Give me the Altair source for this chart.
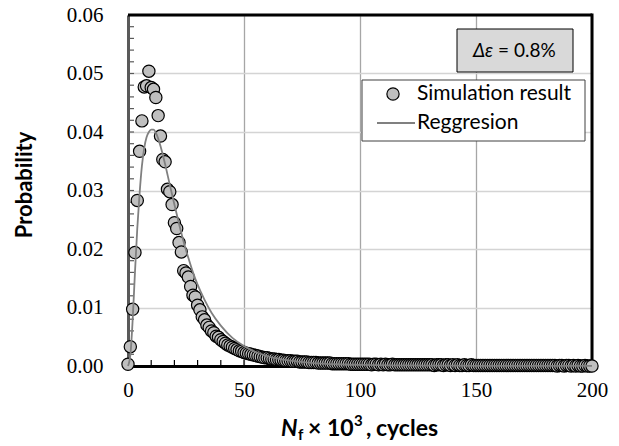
import altair as alt
import pandas as pd

# ---------------- data ----------------
sim_x = list(range(0, 201))
sim_y = [
    0.0003, 0.0033, 0.0097, 0.0194, 0.0283, 0.0367, 0.0419, 0.0477, 0.0479, 0.0504,
    0.0476, 0.0473, 0.0459, 0.0428, 0.0393, 0.0353, 0.0349, 0.0302, 0.0298, 0.0276,
    0.0245, 0.0235, 0.0211, 0.0195, 0.0163, 0.0159, 0.0152, 0.0136, 0.0121, 0.0118,
    0.0104, 0.0096, 0.0084, 0.0079, 0.0070, 0.0066, 0.0060, 0.0057, 0.0051, 0.0049,
    0.0045, 0.0042, 0.0039, 0.0036, 0.0034, 0.0032, 0.0030, 0.0028, 0.0026, 0.0025,
    0.0023, 0.0022, 0.0021, 0.0020, 0.0019, 0.0018, 0.0017, 0.0016, 0.0015, 0.0014,
    0.0014, 0.0013, 0.0012, 0.0012, 0.0011, 0.0011, 0.0010, 0.0010, 0.0009, 0.0009,
    0.0009, 0.0008, 0.0008, 0.0008, 0.0007, 0.0007, 0.0007, 0.0007, 0.0006, 0.0006,
    0.0006, 0.0006, 0.0005, 0.0005, 0.0005, 0.0005, 0.0005, 0.0005, 0.0004, 0.0004,
    0.0004, 0.0004, 0.0004, 0.0004, 0.0004, 0.0004, 0.0003, 0.0003, 0.0003, 0.0003,
    0.0003, 0.0003, 0.0003, 0.0003, 0.0003, 0.0002, 0.0003, 0.0003, 0.0002, 0.0003,
    0.0002, 0.0003, 0.0002, 0.0002, 0.0003, 0.0002, 0.0002, 0.0002, 0.0002, 0.0002,
    0.0002, 0.0002, 0.0002, 0.0002, 0.0002, 0.0002, 0.0002, 0.0002, 0.0002, 0.0002,
    0.0002, 0.0002, 0.0001, 0.0002, 0.0002, 0.0002, 0.0001, 0.0002, 0.0002, 0.0001,
    0.0002, 0.0001, 0.0002, 0.0001, 0.0001, 0.0002, 0.0001, 0.0001, 0.0002, 0.0001,
    0.0001, 0.0001, 0.0001, 0.0001, 0.0001, 0.0001, 0.0001, 0.0001, 0.0001, 0.0001,
    0.0001, 0.0001, 0.0001, 0.0001, 0.0001, 0.0001, 0.0001, 0.0001, 0.0001, 0.0001,
    0.0001, 0.0001, 0.0001, 0.0001, 0.0001, 0.0001, 0.0001, 0.0001, 0.0001, 0.0001,
    0.0001, 0.0001, 0.0001, 0.0001, 0.0001, 0.0000, 0.0001, 0.0001, 0.0000, 0.0001,
    0.0001, 0.0000, 0.0001, 0.0000, 0.0001, 0.0000, 0.0000, 0.0001, 0.0000, 0.0000,
    0.0000,
]
reg_x = [0, 1, 2, 3, 4, 5, 6, 7, 8, 9, 10, 11, 12, 13, 14, 15, 16, 18, 20, 22, 24, 26,
         28, 30, 33, 36, 40, 45, 50, 55, 60, 70, 80, 90, 100, 120, 140, 160, 180, 200]
reg_y = [0.0000, 0.0018, 0.0078, 0.0160, 0.0235, 0.0295, 0.0342, 0.0373, 0.0391, 0.0400,
         0.0404, 0.0404, 0.0399, 0.0389, 0.0376, 0.0361, 0.0345, 0.0310, 0.0276, 0.0243,
         0.0212, 0.0185, 0.0160, 0.0139, 0.0113, 0.0091, 0.0069, 0.0048, 0.0034, 0.0024,
         0.0017, 0.0009, 0.0005, 0.0003, 0.0002, 0.0001, 0.00005, 0.00003, 0.00002, 0.00001]

y_ticks = [0.00, 0.01, 0.02, 0.03, 0.04, 0.05, 0.06]
x_ticks = [0, 50, 100, 150, 200]
y_minor = [0.002, 0.004, 0.006, 0.008, 0.010, 0.012, 0.014, 0.016, 0.018, 0.020,
           0.022, 0.024, 0.026, 0.028, 0.030, 0.032, 0.034, 0.036, 0.038, 0.040,
           0.042, 0.044, 0.046, 0.048, 0.050, 0.052, 0.054, 0.056, 0.058]
x_minor = [10, 20, 30, 40, 50, 60, 70, 80, 90, 100, 110, 120, 130, 140, 150, 160,
           170, 180, 190]

legend_labels = ["Simulation result", "Reggresion"]
y_title = "Probability"
note_italic = "Δε"
note_rest = "= 0.8%"

# ---------------- layout ----------------
W, H = 464, 351
SANS = "Lato"
SERIF = "Liberation Serif"

sim = pd.DataFrame({"x": sim_x, "y": sim_y})
reg = pd.DataFrame({"x": reg_x, "y": reg_y})
one = alt.Data(values=[{"a": 1}])

xs = alt.Scale(domain=[0, 200], nice=False, zero=False)
ys = alt.Scale(domain=[0, 0.06], nice=False)

def X(field):
    return alt.X(field, scale=xs, title="")

def Y(field):
    return alt.Y(field, scale=ys, title="")

# Axes + grid (drawn behind marks)
axes = alt.Chart(reg).mark_line(opacity=0).encode(
    x=alt.X("x:Q", scale=xs, title="",
            axis=alt.Axis(values=x_ticks, labelFont=SERIF, labelFontSize=21,
                          labelColor="black", ticks=False, tickSize=0,
                          labelPadding=13, domainColor="black", domainWidth=3,
                          grid=True, gridColor="#a6a6a6", gridWidth=1.3,
                          labelFlush=False)),
    y=alt.Y("y:Q", scale=ys, title="",
            axis=alt.Axis(values=y_ticks, format=".2f", labelFont=SERIF,
                          labelFontSize=21, labelColor="black", ticks=False,
                          tickSize=0, labelPadding=25, domainColor="#5a5a5a",
                          domainWidth=3, grid=True, gridColor="#d4d4d4",
                          gridWidth=1.3, labelFlush=False)),
)

top_rule = alt.Chart(one).mark_rule(color="black", strokeWidth=3).encode(
    x=alt.value(0), x2=alt.value(W), y=alt.value(0))
right_rule = alt.Chart(one).mark_rule(color="black", strokeWidth=3).encode(
    x=alt.value(W), y=alt.value(-1.5), y2=alt.value(H))

ymin = alt.Chart(pd.DataFrame({"y": y_minor})).mark_rule(
    color="#5a5a5a", strokeWidth=1.2).encode(
    y=Y("y:Q"), x=alt.value(0), x2=alt.value(6))
xmin = alt.Chart(pd.DataFrame({"x": x_minor})).mark_rule(
    color="black", strokeWidth=1.2).encode(
    x=X("x:Q"), y=alt.value(H), y2=alt.value(H - 6))

points = alt.Chart(sim).mark_point(
    shape="circle", filled=True, fill="#bfbfbf", stroke="black",
    strokeWidth=1.2, size=150, opacity=1).encode(x=X("x:Q"), y=Y("y:Q"))

line = alt.Chart(reg).mark_line(
    color="#808080", strokeWidth=1.8, interpolate="monotone").encode(
    x=X("x:Q"), y=Y("y:Q"))

# Δε box
note_box = alt.Chart(one).mark_rect(
    fill="#d9d9d9", stroke="black", strokeWidth=1).encode(
    x=alt.value(329), x2=alt.value(445), y=alt.value(14), y2=alt.value(57))
note_a = alt.Chart(one).mark_text(
    font=SANS, fontSize=19, fontStyle="italic", align="right",
    baseline="middle", color="black").encode(
    x=alt.value(365), y=alt.value(36), text=alt.value(note_italic))
note_b = alt.Chart(one).mark_text(
    font=SANS, fontSize=19, align="left", baseline="middle",
    color="black").encode(
    x=alt.value(370), y=alt.value(36), text=alt.value(note_rest))

# Legend
leg_box = alt.Chart(one).mark_rect(
    fill="white", stroke="#404040", strokeWidth=1).encode(
    x=alt.value(234), x2=alt.value(457), y=alt.value(65), y2=alt.value(126))
leg_pt = alt.Chart(one).mark_point(
    shape="circle", filled=True, fill="#bfbfbf", stroke="black",
    strokeWidth=1.2, size=150, opacity=1).encode(
    x=alt.value(265), y=alt.value(79))
leg_ln = alt.Chart(one).mark_rule(color="#808080", strokeWidth=1.8).encode(
    x=alt.value(249), x2=alt.value(287), y=alt.value(108))
leg_t1 = alt.Chart(one).mark_text(
    font=SANS, fontSize=21, align="left", baseline="middle",
    color="black").encode(
    x=alt.value(289), y=alt.value(79), text=alt.value(legend_labels[0]))
leg_t2 = alt.Chart(one).mark_text(
    font=SANS, fontSize=21, align="left", baseline="middle",
    color="black").encode(
    x=alt.value(289), y=alt.value(108), text=alt.value(legend_labels[1]))

# Axis titles
ytitle = alt.Chart(one).mark_text(
    font=SANS, fontSize=22, fontWeight="bold", angle=270, align="center",
    baseline="middle", color="black").encode(
    x=alt.value(-103), y=alt.value(170), text=alt.value(y_title))

TB = 421  # baseline of x title (relative)
def tpart(txt, x, dy, size, style="normal"):
    return alt.Chart(one).mark_text(
        font=SANS, fontSize=size, fontWeight="bold", fontStyle=style,
        align="left", baseline="alphabetic", color="black").encode(
        x=alt.value(x), y=alt.value(TB + dy), text=alt.value(txt))

xt_N = tpart("N", 153, 0, 23, "italic")
xt_f = tpart("f", 170, 4, 15)
xt_m = tpart("× 10", 180, 0, 23)
xt_3 = tpart("3", 226, -10, 15)
xt_c = tpart(",", 238, 0, 23)
xt_d = tpart("cycles", 248, 0, 23)

chart = alt.layer(
    axes, top_rule, right_rule, ymin, xmin, points, line,
    note_box, note_a, note_b,
    leg_box, leg_pt, leg_ln, leg_t1, leg_t2,
    ytitle, xt_N, xt_f, xt_m, xt_3, xt_c, xt_d,
).properties(
    width=W, height=H,
    autosize=alt.AutoSizeParams(type="none"),
    padding={"left": 128, "top": 15, "right": 27, "bottom": 80},
).configure_view(stroke=None).configure(background="white")

chart.save("out.html", embed_options={"renderer": "svg", "actions": False})
